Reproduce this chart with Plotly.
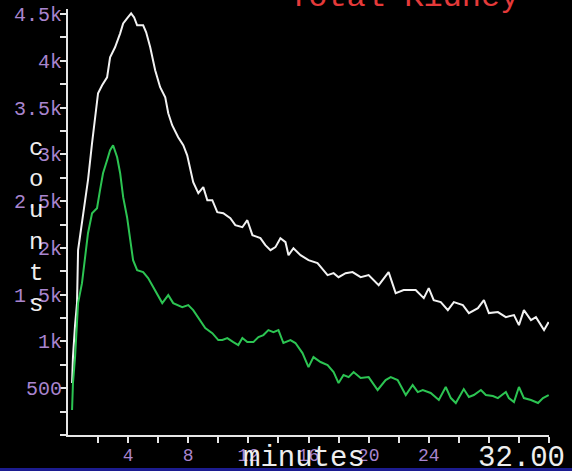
import plotly.graph_objects as go

# ---- data ----
white_t = [0.27, 0.33, 0.47, 0.6, 0.67, 1.0, 1.33, 1.6, 1.8, 2.0, 2.27, 2.6, 2.8, 3.13, 3.47, 3.67,
           3.93, 4.2, 4.4, 4.6, 5.0, 5.2, 5.47, 5.8, 6.13, 6.47, 6.67, 6.93, 7.33, 7.67, 7.93, 8.13,
           8.33, 8.67, 9.0, 9.27, 9.6, 9.93, 10.33, 10.8, 11.13, 11.6, 11.93, 12.27, 12.8, 13.13,
           13.47, 13.8, 14.13, 14.47, 14.67, 15.0, 15.47, 16.0, 16.6, 17.27, 17.67, 18.0, 18.47,
           18.93, 19.47, 20.0, 20.33, 20.67, 21.33, 21.8, 22.33, 23.13, 23.67, 24.0, 24.33, 24.8,
           25.27, 25.67, 26.27, 26.67, 27.27, 27.67, 28.0, 28.6, 29.13, 29.67, 30.0, 30.33, 30.8,
           31.13, 31.67, 31.98]
white_v = [555, 833, 1175, 1410, 1976, 2380, 2723, 3119, 3396, 3653, 3738, 3823, 4037, 4144, 4293,
           4400, 4454, 4507, 4464, 4379, 4379, 4304, 4144, 3898, 3717, 3610, 3439, 3311, 3183, 3097,
           2990, 2830, 2702, 2584, 2649, 2510, 2510, 2382, 2371, 2318, 2243, 2221, 2296, 2136, 2104,
           2029, 1976, 2008, 2104, 2061, 1922, 1997, 1922, 1869, 1837, 1709, 1730, 1687, 1730, 1741,
           1687, 1709, 1655, 1602, 1741, 1517, 1549, 1549, 1463, 1570, 1442, 1420, 1335, 1420, 1388,
           1303, 1356, 1442, 1303, 1314, 1260, 1282, 1175, 1335, 1228, 1260, 1121, 1207]

green_t = [0.27, 0.33, 0.47, 0.6, 0.67, 0.93, 1.13, 1.33, 1.6, 1.93, 2.13, 2.33, 2.6, 2.8, 3.0,
           3.27, 3.47, 3.67, 3.93, 4.13, 4.33, 4.6, 5.0, 5.33, 5.67, 6.0, 6.27, 6.67, 7.0, 7.6,
           8.0, 8.33, 8.67, 9.13, 9.6, 10.0, 10.27, 10.6, 11.0, 11.33, 11.6, 11.93, 12.33, 12.67,
           13.0, 13.33, 13.67, 14.0, 14.33, 14.8, 15.13, 15.6, 16.0, 16.33, 16.8, 17.27, 17.67,
           18.0, 18.33, 18.67, 19.0, 19.47, 20.0, 20.6, 21.13, 21.47, 21.93, 22.47, 22.93, 23.27,
           23.6, 24.13, 24.67, 25.13, 25.47, 25.8, 26.33, 26.67, 27.0, 27.47, 27.8, 28.27, 28.6,
           29.13, 29.33, 29.67, 30.0, 30.33, 30.8, 31.27, 31.6, 31.98]
green_v = [267, 555, 833, 1153, 1410, 1623, 1869, 2157, 2371, 2424, 2617, 2798, 2937, 3044, 3097,
           2969, 2798, 2542, 2328, 2083, 1869, 1762, 1741, 1677, 1581, 1495, 1410, 1495, 1410, 1367,
           1388, 1335, 1250, 1143, 1089, 1015, 1015, 1036, 993, 961, 1036, 993, 993, 1047,
           1068, 1121, 1100, 1121, 983, 1015, 983, 876, 726, 833, 780, 748, 673,
           555, 641, 619, 673, 609, 619, 481, 587, 619, 587, 427, 534, 459,
           481, 449, 374, 513, 395, 342, 491, 406, 427, 481, 427, 417, 395,
           459, 395, 352, 513, 395, 374, 342, 395, 427]

y_tick_vals = [500, 1000, 1500, 2000, 2500, 3000, 3500, 4000, 4500]
y_tick_text = ["500", "1k", "1.5k", "2k", "2.5k", "3k", "3.5k", "4k", "4.5k"]
x_tick_vals = [4, 8, 12, 16, 20, 24, 28, 32]
x_tick_text = ["4", "8", "12", "16", "20", "24", "", ""]

title_text = "Total Kidney"
x_title = "minutes"
y_title = "counts"
end_label = "32.00"

# ---- styling ----
W, H = 572, 471
ML, MR, MT, MB = 68, 23, 9, 36
PW, PH = W - ML - MR, H - MT - MB
MONO = "Liberation Mono"
PURPLE = "#a985cf"
AXIS = "#e6e6e6"

def px_x(px):
    return (px - ML) / PW

def px_y(py):
    return (H - MB - py) / PH

fig = go.Figure()
fig.add_trace(go.Scatter(x=white_t, y=white_v, mode="lines",
                         line=dict(color="#f2f2f2", width=2), hoverinfo="skip"))
fig.add_trace(go.Scatter(x=green_t, y=green_v, mode="lines",
                         line=dict(color="#2cc452", width=2), hoverinfo="skip"))

fig.update_layout(
    width=W, height=H, margin=dict(l=ML, r=MR, t=MT, b=MB, autoexpand=False),
    paper_bgcolor="black", plot_bgcolor="black", showlegend=False,
    xaxis=dict(range=[0, 32], automargin=False, showgrid=False, zeroline=False, showline=True,
               linecolor=AXIS, linewidth=2, ticks="outside", ticklen=6, tickwidth=2,
               tickcolor=AXIS, tickvals=x_tick_vals, ticktext=x_tick_text,
               ticklabelstandoff=-4,
               tickfont=dict(family=MONO, size=18, color=PURPLE),
               minor=dict(tickvals=[2, 6, 10, 14, 18, 22, 26, 30], ticks="outside",
                          ticklen=6, tickwidth=2, tickcolor=AXIS)),
    yaxis=dict(range=[0, 4500 * PH / 421], automargin=False, showgrid=False, zeroline=False,
               showline=True, linecolor=AXIS, linewidth=2, ticks="outside", ticklen=6,
               tickwidth=2, tickcolor=AXIS, tickvals=y_tick_vals, ticktext=y_tick_text,
               ticklabelstandoff=-6,
               tickfont=dict(family=MONO, size=20, color=PURPLE),
               minor=dict(dtick=250, ticks="outside", ticklen=6, tickwidth=2, tickcolor=AXIS)),
)

fig.add_annotation(text=title_text, xref="paper", yref="paper", x=px_x(404), y=px_y(-2),
                   xanchor="center", yanchor="middle", showarrow=False,
                   font=dict(family=MONO, size=32, color="#e53a3a"))
fig.add_annotation(text="<br>".join(list(y_title)), xref="paper", yref="paper",
                   x=px_x(36), y=px_y(226), xanchor="center", yanchor="middle",
                   showarrow=False, font=dict(family=MONO, size=24, color="#eeeeee"))
fig.add_annotation(text=x_title, xref="paper", yref="paper", x=px_x(304), y=px_y(458),
                   xanchor="center", yanchor="middle", showarrow=False,
                   font=dict(family=MONO, size=29, color="#eeeeee"))
fig.add_annotation(text=end_label, xref="paper", yref="paper", x=px_x(521), y=px_y(458),
                   xanchor="center", yanchor="middle", showarrow=False,
                   font=dict(family=MONO, size=29, color="#eeeeee"))
fig.add_shape(type="rect", xref="paper", yref="paper", x0=px_x(0), x1=px_x(W),
              y0=px_y(471), y1=px_y(468), fillcolor="#1c1c90", line=dict(width=0), layer="above")

fig.write_html("out.html")
